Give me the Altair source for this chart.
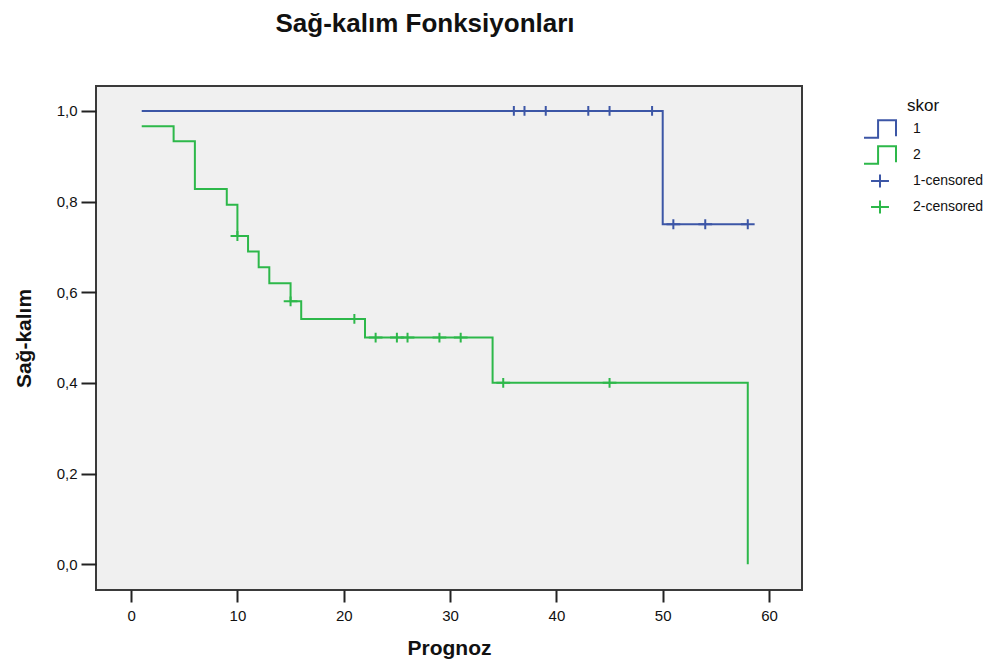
import altair as alt
import pandas as pd

# ---- data ----
g1_times = [1, 50, 58]
g1_surv = [1.0, 0.75, 0.75]
g2_times = [1, 4, 6, 9, 10, 11, 12, 13, 15, 16, 22, 34, 58]
g2_surv = [0.966, 0.933, 0.828, 0.793, 0.724, 0.690, 0.655, 0.620, 0.580, 0.541, 0.500, 0.400, 0.0]

g1_cens_times = [36, 37, 39, 43, 45, 49, 51, 54, 58]
g1_cens_surv = [1.0, 1.0, 1.0, 1.0, 1.0, 1.0, 0.75, 0.75, 0.75]
g2_cens_times = [10, 15, 21, 23, 25, 26, 29, 31, 35, 45]
g2_cens_surv = [0.724, 0.580, 0.541, 0.5, 0.5, 0.5, 0.5, 0.5, 0.4, 0.4]

legend_items = ["1", "2", "1-censored", "2-censored"]
BLUE = "#3C56A6"
GREEN = "#2DB84A"
STEP = "M-1,0.55 L-0.12,0.55 L-0.12,-0.55 L1,-0.55 L1,0.45"
PLUS = "M-0.56,0 L0.56,0 M0,-0.4 L0,0.4"

x_ticks = [0, 10, 20, 30, 40, 50, 60]
y_ticks = [0.0, 0.2, 0.4, 0.6, 0.8, 1.0]

d1 = pd.DataFrame({"t": g1_times, "s": g1_surv})
d2 = pd.DataFrame({"t": g2_times, "s": g2_surv})
cens = pd.DataFrame({
    "t": g1_cens_times + g2_cens_times,
    "s": g1_cens_surv + g2_cens_surv,
    "grp": ["1-censored"] * len(g1_cens_times) + ["2-censored"] * len(g2_cens_times),
})

FONT = "Liberation Sans"

xenc = alt.X("t:Q", title="Prognoz",
             scale=alt.Scale(domain=[-3.3, 63.1], nice=False, zero=False),
             axis=alt.Axis(values=x_ticks, grid=False, domain=False, tickSize=12,
                           tickWidth=2, tickColor="#222", labelPadding=6,
                           labelFontSize=15, labelColor="#111", labelFont=FONT,
                           titleFont=FONT, titleFontSize=21, titleFontWeight="bold",
                           titleColor="#111", titlePadding=14))
yenc = alt.Y("s:Q", title="Sağ-kalım",
             scale=alt.Scale(domain=[-0.057, 1.055], nice=False, zero=False),
             axis=alt.Axis(values=y_ticks, grid=False, domain=False, tickSize=15,
                           tickWidth=2, tickColor="#222", labelPadding=4,
                           labelFontSize=15, labelColor="#111", labelFont=FONT,
                           labelExpr="replace(format(datum.value, '.1f'), '.', ',')",
                           titleFont=FONT, titleFontSize=21, titleFontWeight="bold",
                           titleColor="#111", titlePadding=22))

line1 = alt.Chart(d1).mark_line(interpolate="step-after", strokeWidth=2, color=BLUE).encode(x=xenc, y=yenc)
line2 = alt.Chart(d2).mark_line(interpolate="step-after", strokeWidth=2, color=GREEN).encode(x=xenc, y=yenc)

pts = alt.Chart(cens).mark_point(filled=False, strokeWidth=2, size=600, opacity=1).encode(
    x=xenc, y=yenc,
    color=alt.Color("grp:N", title="skor",
                    scale=alt.Scale(domain=legend_items, range=[BLUE, GREEN, BLUE, GREEN]),
                    legend=alt.Legend(orient="none", legendX=767, legendY=12,
                                      symbolSize=1024, symbolStrokeWidth=2,
                                      symbolFillColor="transparent",
                                      clipHeight=24, rowPadding=2,
                                      labelFont=FONT, labelFontSize=14, labelColor="#111",
                                      labelOffset=16,
                                      titleFont=FONT, titleFontSize=17, titleFontWeight="normal",
                                      titleColor="#111", titleAnchor="middle", titlePadding=2)),
    shape=alt.Shape("grp:N", title="skor",
                    scale=alt.Scale(domain=legend_items, range=[STEP, STEP, PLUS, PLUS])),
)

chart = alt.layer(line1, line2, pts).properties(
    width=706, height=504,
    background="white",
    title=alt.TitleParams("Sağ-kalım Fonksiyonları", font=FONT, fontSize=26, fontWeight="bold",
                          color="#111", anchor="middle", dx=-24, offset=49),
    autosize=alt.AutoSizeParams(type="none"),
    padding={"left": 96, "top": 86, "right": 202, "bottom": 74},
).configure_view(fill="#F0F0F0", stroke="#3A3A3A", strokeWidth=2)

chart.save("out.html", embed_options={"renderer": "svg", "actions": False})
